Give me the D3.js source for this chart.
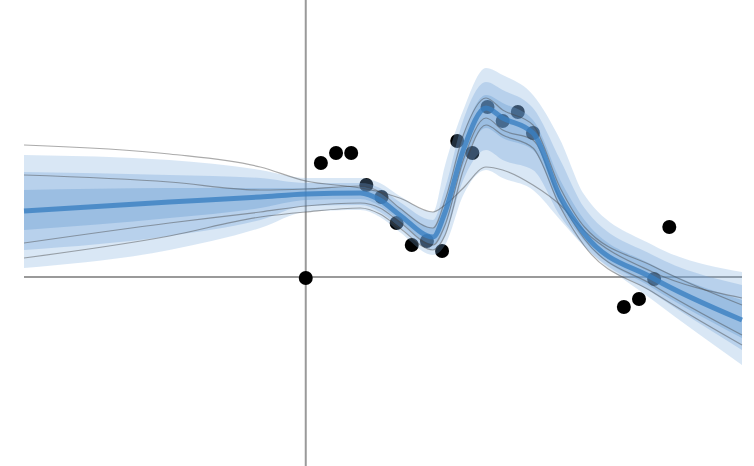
<!DOCTYPE html>
<html>
<head>
<meta charset="utf-8">
<script src="https://cdn.jsdelivr.net/npm/d3@7"></script>
<style>
  body { margin: 0; background: #fff; }
</style>
</head>
<body>
<div id="chart"></div>
<script>
// grid of x positions where the posterior summary was read
const gridX = [-18.6, -9.0, -3.0, 0, 3.6, 4.9, 6.2, 8.4, 9.2, 10.4, 11.9, 13.0, 15.0, 16.8, 18.4, 22.9, 28.8];

const meanY = [6.6, 7.5, 8.0, 8.3, 8.4, 7.7, 6.2, 4.0, 6.5, 12.7, 16.9, 15.9, 14.4, 8.0, 4.3, -0.1, -4.3];

const outerHi = [12.2, 11.7, 10.7, 9.9, 9.9, 9.4, 8.1, 6.5, 11.2, 16.7, 20.9, 20.2, 18.2, 13.7, 8.2, 3.2, 0.5];
const outerLo = [0.9, 2.7, 4.9, 6.5, 6.7, 6.0, 4.5, 2.2, 3.2, 8.2, 10.7, 9.9, 8.7, 5.7, 3.0, -2.3, -8.8];
const midHi = [10.5, 10.2, 9.9, 9.4, 9.4, 8.9, 7.5, 5.7, 8.9, 15.7, 19.5, 18.7, 16.9, 11.7, 6.9, 2.2, -0.8];
const midLo = [2.7, 4.1, 5.7, 7.1, 7.2, 6.5, 5.0, 2.7, 4.2, 9.7, 12.7, 11.7, 10.7, 6.1, 3.1, -1.6, -7.3];
const innerHi = [8.7, 8.9, 8.9, 8.9, 9.0, 8.4, 6.9, 4.9, 7.7, 14.2, 18.2, 17.4, 15.7, 9.7, 5.7, 1.2, -2.3];
const innerLo = [4.7, 5.9, 6.9, 7.7, 7.8, 7.1, 5.6, 3.3, 5.2, 11.2, 14.9, 13.9, 12.7, 7.0, 3.6, -1.1, -6.1];

// a few posterior draws
const sample1 = [13.2, 12.3, 11.0, 9.6, 8.9, 8.5, 7.9, 6.5, 7.2, 8.9, 11.0, 10.7, 9.2, 7.2, 4.6, 0.5, -2.1];
const sample2 = [3.4, 5.4, 6.5, 7.1, 7.4, 6.9, 5.5, 3.2, 5.2, 11.7, 15.9, 14.7, 13.7, 7.7, 3.8, -0.8, -5.8];
const sample3 = [1.9, 4.1, 6.0, 6.5, 6.9, 6.3, 4.9, 2.7, 4.2, 10.7, 15.2, 14.2, 12.9, 7.0, 3.1, -1.5, -6.8];
const sample4 = [10.2, 9.5, 8.7, 8.8, 9.1, 8.5, 6.9, 4.9, 7.7, 14.2, 17.9, 16.7, 15.2, 8.9, 5.0, 1.1, -2.8];

// observations
const obsX = [0, 1, 2, 3, 4, 5, 6, 7, 8, 9, 10, 11, 12, 13, 14, 15, 21, 22, 23, 24];
const obsY = [-0.1, 11.4, 12.4, 12.4, 9.2, 8.0, 5.4, 3.2, 3.6, 2.6, 13.6, 12.4, 17.0, 15.6, 16.5, 14.4, -3.0, -2.2, -0.2, 5.0];

const width = 754;
const height = 466;

const x = d3.scaleLinear().domain([-18.6, 28.8]).range([24, 742]);
const y = d3.scaleLinear().domain([-18.9, 27.7]).range([height, 0]);

const svg = d3.select('#chart').append('svg')
  .attr('width', width)
  .attr('height', height);

// axes through the origin
svg.append('line')
  .attr('x1', x(-18.6)).attr('x2', x(28.8))
  .attr('y1', y(0)).attr('y2', y(0))
  .attr('stroke', '#9a9a9a')
  .attr('stroke-width', 2);

svg.append('line')
  .attr('x1', x(0)).attr('x2', x(0))
  .attr('y1', 0).attr('y2', height)
  .attr('stroke', '#9a9a9a')
  .attr('stroke-width', 2);

// points go under the bands so they pick up the blue tint
svg.append('g')
  .selectAll('circle')
  .data(obsX.map((d, i) => ({ x: d, y: obsY[i] })))
  .enter()
  .append('circle')
  .attr('cx', d => x(d.x))
  .attr('cy', d => y(d.y))
  .attr('r', 7)
  .attr('fill', '#000');

const area = (lo, hi) => d3.area()
  .x((d, i) => x(gridX[i]))
  .y0((d, i) => y(lo[i]))
  .y1((d, i) => y(hi[i]))
  .curve(d3.curveMonotoneX)(gridX);

const line = vals => d3.line()
  .x((d, i) => x(gridX[i]))
  .y((d, i) => y(vals[i]))
  .curve(d3.curveMonotoneX)(gridX);

const bands = [
  { lo: outerLo, hi: outerHi, color: 'rgb(120,170,220)', op: 0.28 },
  { lo: midLo, hi: midHi, color: 'rgb(110,160,215)', op: 0.3 },
  { lo: innerLo, hi: innerHi, color: 'rgb(100,155,210)', op: 0.35 }
];

svg.append('g')
  .selectAll('path')
  .data(bands)
  .enter()
  .append('path')
  .attr('d', d => area(d.lo, d.hi))
  .attr('fill', d => d.color)
  .attr('fill-opacity', d => d.op);

svg.append('g')
  .selectAll('path')
  .data([sample1, sample2, sample3, sample4])
  .enter()
  .append('path')
  .attr('d', d => line(d))
  .attr('fill', 'none')
  .attr('stroke', '#444')
  .attr('stroke-opacity', 0.45)
  .attr('stroke-width', 1.2);

// posterior mean
svg.append('path')
  .attr('d', line(meanY))
  .attr('fill', 'none')
  .attr('stroke', '#3a7fc2')
  .attr('stroke-opacity', 0.8)
  .attr('stroke-width', 5);
</script>
</body>
</html>
